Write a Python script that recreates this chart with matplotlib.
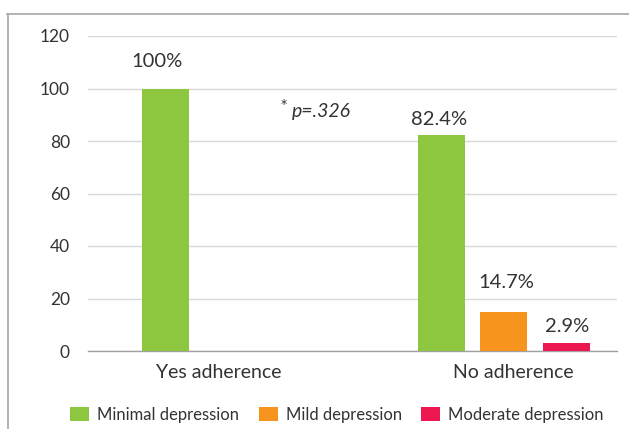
import matplotlib
matplotlib.use("Agg")
import matplotlib.pyplot as plt
from matplotlib.lines import Line2D
from matplotlib.patches import Patch
import numpy as np

# Data
categories = ["Yes adherence", "No adherence"]
series_names = ["Minimal depression", "Mild depression", "Moderate depression"]
minimal = [100.0, 82.4]
mild = [0.0, 14.7]
moderate = [0.0, 2.9]
value_labels = {(0, 0): "100%", (1, 0): "82.4%", (1, 1): "14.7%", (1, 2): "2.9%"}
yticks = [0, 20, 40, 60, 80, 100, 120]
p_text = "p=.326"

colors = ["#8dc63f", "#f7941d", "#ee1650"]
text_color = "#333333"
font = "Lato"

# (dx, dy) offset in points of each value label's baseline from its bar top
label_off = {(0, 0): (-5.5, 15.7), (1, 0): (-1.5, 6.9), (1, 1): (2, 17.5), (1, 2): (0.5, 8)}

fig = plt.figure(figsize=(6.29, 4.29), dpi=100)
W, H = 629, 429
ax = fig.add_axes([88 / W, (H - 351) / H, (617 - 88) / W, (351 - 36) / H])

x = np.arange(len(categories))
width = 0.170
offset = 0.226
series = [minimal, mild, moderate]
for j, (vals, col) in enumerate(zip(series, colors)):
    pos = x + (j - 1) * offset
    bars = ax.bar(pos, vals, width=width, color=col, zorder=3, label=series_names[j])
    for i, (b, v) in enumerate(zip(bars, vals)):
        if (i, j) in value_labels:
            ax.annotate(value_labels[(i, j)],
                        xy=(b.get_x() + b.get_width() / 2, v),
                        xytext=label_off[(i, j)], textcoords="offset points",
                        ha="center", va="baseline", fontsize=14.5,
                        family=font, color=text_color)

ax.set_xlim(-0.505, 1.41)
ax.set_ylim(0, 120)
ax.set_yticks(yticks)
ax.set_yticklabels([str(t) for t in yticks], family=font, fontsize=12.5, color=text_color)
ax.set_xticks([-0.03, 1.033])
ax.set_xticklabels(categories, family=font, fontsize=14, color=text_color)
ax.tick_params(axis="both", length=0)
ax.tick_params(axis="y", pad=13)
ax.tick_params(axis="x", pad=9)
ax.grid(axis="y", color="#d9d9d9", linewidth=1.0, zorder=0)
for s in ["top", "right", "left"]:
    ax.spines[s].set_visible(False)
ax.spines["bottom"].set_color("#a0a0a0")
ax.spines["bottom"].set_linewidth(1.0)

# significance note
ax.text(0.193, 96.2, "*", fontsize=9, family="DejaVu Sans", color=text_color,
        ha="left", va="top")
ax.text(0.232, 89.3, p_text, fontsize=14, family=font, color=text_color,
        ha="left", va="baseline", style="italic")

# legend
handles = [Patch(facecolor=c, edgecolor="none") for c in colors]
fig.legend(handles, series_names, loc="center", bbox_to_anchor=(337 / W, (H - 415) / H),
           ncol=3, frameon=False, prop={"family": font, "size": 12},
           handlelength=1.14, handleheight=0.9, handletextpad=0.5, columnspacing=1.15,
           labelcolor=text_color, borderaxespad=0, borderpad=0)

# outer frame
frame_col = "#a6a6a6"
fig.add_artist(Line2D([7 / W, 1], [(H - 14) / H, (H - 14) / H], color=frame_col, linewidth=1.2))
fig.add_artist(Line2D([8 / W, 8 / W], [0, (H - 14) / H], color=frame_col, linewidth=1.2))

fig.savefig("out.png", dpi=100)
